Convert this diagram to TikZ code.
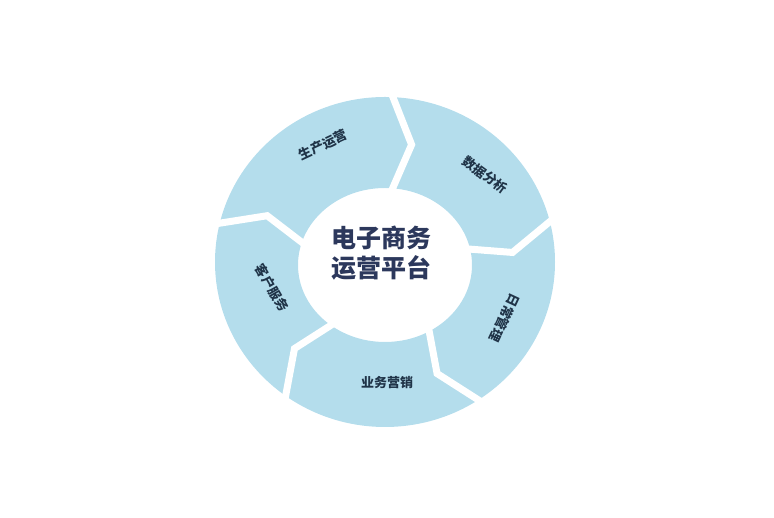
\documentclass[tikz,border=0pt]{standalone}
\usepackage{fontspec}
\usepackage{xcolor}
\newfontfamily\cjk{Noto Sans CJK SC}

\definecolor{ringblue}{RGB}{180,221,236}
\definecolor{labelink}{RGB}{32,52,72}
\definecolor{titleink}{RGB}{44,56,92}

\tikzset{
  gapline/.style={white,line width=7pt,line join=miter},
  seglabel/.style={font=\cjk\bfseries\fontsize{13}{13}\selectfont,text=labelink,inner sep=0pt},
  titlelabel/.style={font=\cjk\bfseries\fontsize{25}{30}\selectfont,text=titleink,align=center,inner sep=0pt}
}

\begin{document}
\begin{tikzpicture}[x=1pt,y=1pt]
        \useasboundingbox (0,0) rectangle (774,518);
        \coordinate (hub) at (385,256);
        \coordinate (eye) at (385,253);
        % ring of five pieces
        \fill[ringblue,even odd rule] (hub) ellipse [x radius=170pt,y radius=165pt]
              (eye) ellipse [x radius=87pt,y radius=77pt];
        \foreach \b in {89,16,-55,-124,168}{
          \draw[gapline] ({385+182*cos(\b)},{256+177*sin(\b)})
                      -- ({385+128*cos(\b-11)},{255+121*sin(\b-11)})
                      -- ({385+72*cos(\b)},{253+62*sin(\b)});
        }
        %labels
        \node[seglabel,rotate=25]   (prod)   at (323,373) {生产运营};
        \node[seglabel,rotate=-36]  (data)   at (485,343) {数据分析};
        \node[seglabel,rotate=-115] (daily)  at (505,200) {日常管理};
        \node[seglabel]             (market) at (387,135) {业务营销};
        \node[seglabel,rotate=-60]  (client) at (272,230) {客户服务};
        \node[titlelabel]           (title)  at (381,265) {电子商务\\运营平台};
\end{tikzpicture}
\end{document}
